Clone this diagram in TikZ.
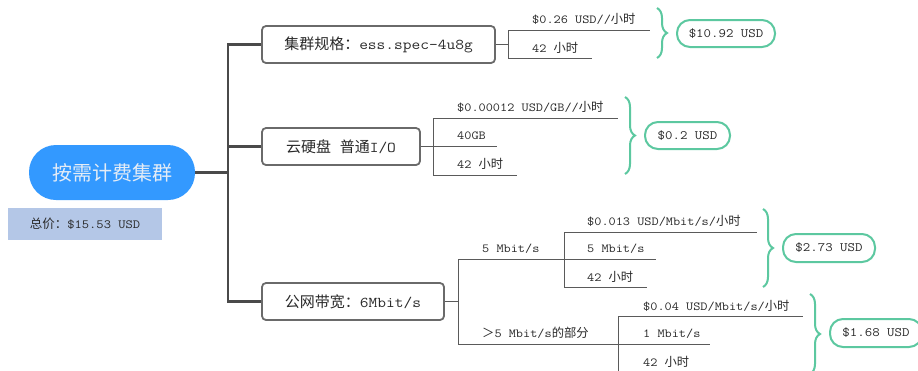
\documentclass[tikz,border=0pt]{standalone}
\usepackage{fontspec}
\setmainfont{Latin Modern Mono}[FakeStretch=1.13]
\newfontfamily\cjk{Noto Sans CJK SC}
\newcommand{\zh}[1]{{\cjk #1}}
\usetikzlibrary{decorations.pathreplacing}
\definecolor{rootblue}{HTML}{3399FF}
\definecolor{rootfg}{HTML}{E4ECF6}
\definecolor{totalbg}{HTML}{B4C7E7}
\definecolor{trunkc}{HTML}{4A4A4A}
\definecolor{boxc}{HTML}{6A6A6A}
\definecolor{thinc}{HTML}{5A5A5A}
\definecolor{accent}{HTML}{5CC8A0}
\definecolor{txt}{HTML}{2A2A2A}
\begin{document}
\begin{tikzpicture}[x=1pt,y=-1pt,
  rootnode/.style={fill=rootblue, rounded corners=27pt, minimum width=166pt, minimum height=55pt, inner sep=0pt, text=rootfg, font=\fontsize{20}{24}\selectfont\cjk},
  totalnode/.style={fill=totalbg, minimum width=154pt, minimum height=32pt, inner sep=0pt, text=txt, font=\fontsize{12.5}{15}\selectfont},
  trunk/.style={draw=trunkc, line width=2.8pt},
  branchbox/.style={draw=boxc, line width=1.8pt, rounded corners=4pt, minimum height=37pt, inner sep=0pt, fill=white, text=txt, font=\fontsize{15}{18}\selectfont},
  thinline/.style={draw=thinc, line width=1pt},
  leaf/.style={anchor=west, inner sep=0pt, text=txt, font=\fontsize{12.3}{14}\selectfont},
  bracestyle/.style={draw=accent, line width=2pt, decorate, decoration={brace, amplitude=10pt}},
  pill/.style={draw=accent, line width=2pt, fill=white, rounded corners=13pt, minimum height=27pt, inner sep=0pt, text=txt, font=\fontsize{12.8}{15}\selectfont}
]
\clip (0,0) rectangle (918,370);
\fill[white] (0,0) rectangle (918,370);

% root and total
\node[rootnode] (root) at (112,172.5) {按需计费集群};
\node[totalnode] (total) at (85,224) {\zh{总价：}\$15.53 USD};

% trunk
\coordinate (tr0) at (228,172.5);
\coordinate (tr1) at (228,44.5);
\coordinate (tr2) at (228,146.5);
\coordinate (tr3) at (228,301.5);

% branch boxes
\node[branchbox, minimum width=233pt] (b1) at (378.5,44.5) {\zh{集群规格：}ess.spec-4u8g};
\node[branchbox, minimum width=158pt] (b2) at (341,146.5) {\zh{云硬盘} \zh{普通}I/O};
\node[branchbox, minimum width=182pt] (b3) at (353,301.5) {\zh{公网带宽：}6Mbit/s};

\draw[trunk] (root.east) -- (tr0);
\draw[trunk, line cap=rect] (tr1) -- (tr3);
\draw[trunk] (tr1) -- (b1.west);
\draw[trunk] (tr2) -- (b2.west);
\draw[trunk] (tr3) -- (b3.west);

% ---- branch 1 ----
\coordinate (v1) at (508,44.5);
\coordinate (v1t) at (508,30);
\coordinate (v1b) at (508,58);
\coordinate (e1a) at (650,30);
\coordinate (e1b) at (592,58);
\draw[thinline] (b1.east) -- (v1);
\draw[thinline] (v1t) -- (v1b);
\draw[thinline] (v1t) -- (e1a);
\draw[thinline] (v1b) -- (e1b);
\node[leaf] (l1a) at (532,19) {\$0.26 USD//\zh{小时}};
\node[leaf] (l1b) at (532,47.5) {42 \zh{小时}};
\coordinate (br1t) at (657,8);
\coordinate (br1b) at (657,58);
\draw[bracestyle] (br1t) -- (br1b);
\node[pill, minimum width=98pt] (p1) at (726,33.5) {\$10.92 USD};

% ---- branch 2 ----
\coordinate (v2t) at (433,118);
\coordinate (v2b) at (433,175);
\coordinate (e2a) at (618,118);
\coordinate (e2m) at (497,146.5);
\coordinate (e2b) at (517,175);
\draw[thinline] (b2.east) -- (e2m);
\draw[thinline] (v2t) -- (v2b);
\draw[thinline] (v2t) -- (e2a);
\draw[thinline] (v2b) -- (e2b);
\node[leaf] (l2a) at (457,107) {\$0.00012 USD/GB//\zh{小时}};
\node[leaf] (l2b) at (457,136) {40GB};
\node[leaf] (l2c) at (457,164) {42 \zh{小时}};
\coordinate (br2t) at (625,97);
\coordinate (br2b) at (625,174);
\draw[bracestyle] (br2t) -- (br2b);
\node[pill, minimum width=85pt] (p2) at (687.5,135.5) {\$0.2 USD};

% ---- branch 3 ----
\coordinate (v3) at (458,301.5);
\coordinate (v3t) at (458,259);
\coordinate (v3b) at (458,344);
\coordinate (e3a) at (656,259);
\coordinate (e3b) at (710,344);
\draw[thinline] (b3.east) -- (v3);
\draw[thinline] (v3t) -- (v3b);
\draw[thinline] (v3t) -- (e3a);
\draw[thinline] (v3b) -- (e3b);
\node[leaf] (l3a) at (482,249) {5 Mbit/s};
\node[leaf] (l3b) at (482,333) {\zh{＞}5 Mbit/s\zh{的部分}};

% sub 1
\coordinate (s1t) at (564,232);
\coordinate (s1b) at (564,287);
\coordinate (f1a) at (757,232);
\coordinate (f1b) at (647,287);
\draw[thinline] (s1t) -- (s1b);
\draw[thinline] (s1t) -- (f1a);
\draw[thinline] (s1b) -- (f1b);
\node[leaf] (m1a) at (587,221) {\$0.013 USD/Mbit/s/\zh{小时}};
\node[leaf] (m1b) at (587,248.5) {5 Mbit/s};
\node[leaf] (m1c) at (587,276.5) {42 \zh{小时}};
\coordinate (br3t) at (763,209);
\coordinate (br3b) at (763,287);
\draw[bracestyle] (br3t) -- (br3b);
\node[pill, minimum width=92pt, minimum height=28pt] (p3) at (829,248) {\$2.73 USD};

% sub 2
\coordinate (s2t) at (618,316);
\coordinate (s2b) at (618,373);
\coordinate (f2a) at (803,316);
\coordinate (f2b) at (700,373);
\draw[thinline] (s2t) -- (s2b);
\draw[thinline] (s2t) -- (f2a);
\draw[thinline] (s2b) -- (f2b);
\node[leaf] (m2a) at (643,305.5) {\$0.04 USD/Mbit/s/\zh{小时}};
\node[leaf] (m2b) at (643,333.5) {1 Mbit/s};
\node[leaf] (m2c) at (643,362) {42 \zh{小时}};
\coordinate (br4t) at (810,294);
\coordinate (br4b) at (810,374);
\draw[bracestyle] (br4t) -- (br4b);
\node[pill, minimum width=92pt, minimum height=28pt] (p4) at (876,333) {\$1.68 USD};
\end{tikzpicture}
\end{document}
